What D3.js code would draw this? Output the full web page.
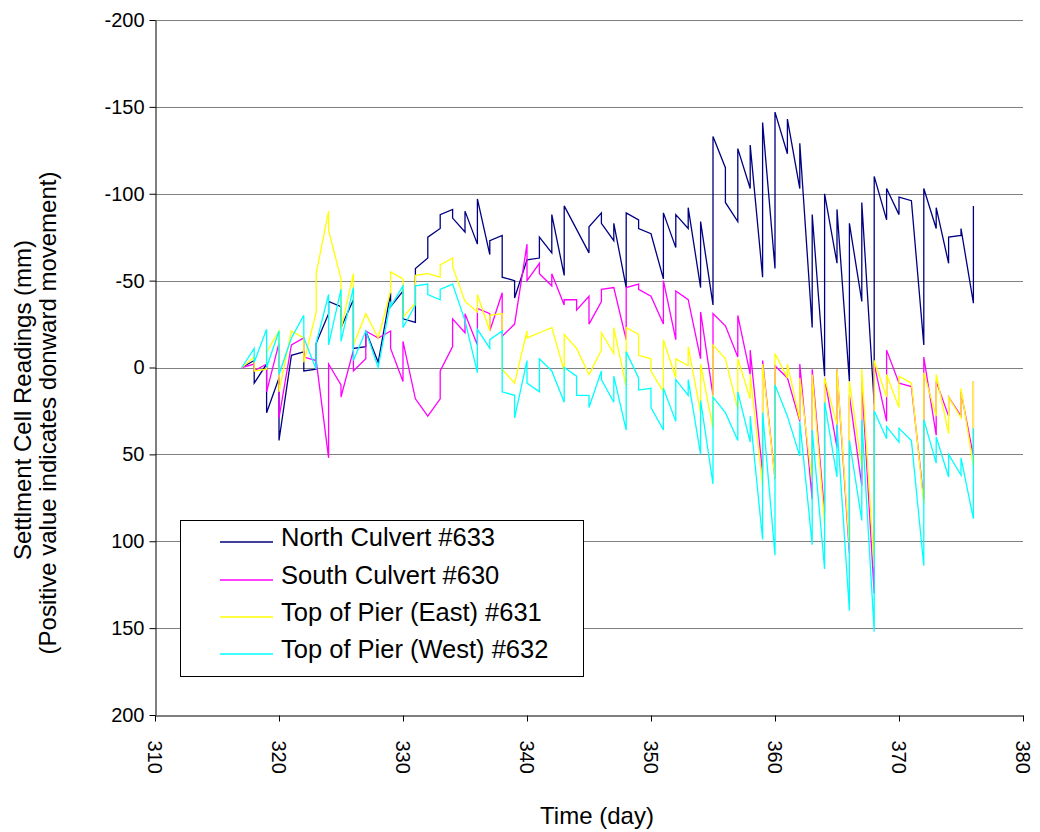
<!DOCTYPE html>
<html><head><meta charset="utf-8">
<script src="https://cdn.jsdelivr.net/npm/d3@7"></script>
<style>
body{margin:0;background:#fff}
svg{display:block}
text{font-family:"Liberation Sans",Arial,sans-serif;fill:#000}
</style>
</head><body>
<svg id="chart" width="1040" height="832"></svg>
<script>
const xTicks = [310,320,330,340,350,360,370,380];
const yTicks = [-200,-150,-100,-50,0,50,100,150,200];
const seriesNames = ["North Culvert #633","South Culvert #630","Top of Pier (East) #631","Top of Pier (West) #632"];
const seriesColors = ["#000080","#FF00FF","#FFFF00","#00FFFF"];

const north633 = [[317,0],[318,-4],[318,9],[319,-2],[319,26],[320,6],[320,42],[321,-7],[322,-9],[322,2],[323,1],[323,-14],[324,-31],[324,-38],[325,-35],[325,-23],[326,-39],[326,-11],[327,-12],[327,-21],[328,-3],[329,-43],[329,-35],[330,-44],[330,-28],[331,-26],[331,-57],[332,-63],[332,-75],[333,-80],[333,-88],[334,-91],[334,-86],[335,-78],[335,-90],[336,-71],[336,-97],[337,-65],[337,-73],[338,-76],[338,-52],[339,-50],[339,-40],[340,-62],[341,-63],[341,-75],[342,-66],[342,-88],[343,-53],[343,-93],[345,-66],[345,-81],[346,-89],[346,-83],[347,-73],[347,-83],[348,-46],[348,-89],[349,-85],[349,-80],[350,-77],[351,-51],[351,-89],[352,-69],[352,-88],[353,-80],[353,-92],[354,-46],[354,-84],[355,-36],[355,-133],[356,-115],[356,-95],[357,-84],[357,-126],[358,-103],[358,-128],[359,-52],[359,-141],[360,-57],[360,-147],[361,-123],[361,-143],[362,-103],[362,-129],[363,-23],[363,-88],[364,5],[364,-100],[365,-60],[365,-91],[366,8],[366,-83],[367,-38],[367,-95],[368,21],[368,-110],[369,-85],[369,-103],[370,-88],[370,-98],[371,-96],[372,-13],[372,-103],[373,-80],[373,-92],[374,-60],[374,-75],[375,-76],[375,-80],[376,-37],[376,-93]];

const south630 = [[317,0],[318,-2],[318,2],[319,-2],[319,14],[320,-14],[320,29],[321,-13],[322,-17],[322,-6],[323,-4],[324,52],[324,-2],[325,10],[325,17],[326,-10],[326,2],[327,-5],[327,-21],[328,-17],[329,-21],[329,-11],[330,8],[330,-15],[331,18],[332,28],[333,18],[333,2],[334,-12],[334,-28],[335,-20],[335,-31],[336,-13],[336,-34],[337,-31],[337,-21],[338,-43],[338,-18],[339,-25],[340,-71],[340,-50],[341,-60],[341,-54],[342,-47],[342,-54],[343,-36],[343,-39],[344,-39],[344,-33],[345,-41],[345,-25],[346,-38],[346,-45],[347,-46],[348,-16],[348,-46],[349,-48],[349,-45],[350,-41],[351,-25],[351,-50],[352,-16],[352,-44],[353,-39],[354,-5],[354,-32],[355,16],[355,-31],[356,-24],[357,-6],[357,-30],[358,4],[358,-10],[359,61],[359,-4],[360,64],[360,-1],[361,6],[362,31],[362,-2],[363,76],[363,1],[364,84],[364,6],[365,46],[365,1],[366,107],[366,16],[367,68],[367,8],[368,130],[368,-2],[369,31],[369,-10],[370,9],[371,11],[372,76],[372,-6],[373,39],[373,8],[374,28],[374,17],[375,28],[375,14],[376,51],[376,8]];

const east631 = [[317,0],[318,-6],[318,2],[319,1],[319,-9],[320,-21],[320,14],[321,-21],[322,-17],[322,-3],[323,-32],[323,-54],[324,-90],[324,-79],[325,-51],[325,-22],[326,-54],[326,-13],[327,-31],[328,-17],[329,-44],[329,-55],[330,-51],[330,-29],[331,-37],[331,-53],[332,-54],[333,-52],[333,-59],[334,-63],[334,-58],[335,-38],[336,-32],[336,-42],[337,-21],[337,-30],[338,-31],[338,1],[339,9],[340,-21],[340,-17],[341,-20],[342,-23],[343,2],[343,-19],[344,-11],[345,4],[346,-10],[346,-20],[347,-8],[347,-23],[348,11],[348,-23],[349,-19],[349,-7],[350,-5],[350,2],[351,14],[351,-16],[352,6],[352,-5],[353,-1],[353,-12],[354,26],[354,-2],[355,35],[355,-13],[356,-5],[357,24],[357,-5],[358,18],[358,4],[359,68],[359,-2],[360,64],[360,-8],[361,6],[361,-2],[362,30],[362,6],[363,66],[363,4],[364,90],[364,6],[365,33],[365,1],[366,103],[366,8],[367,57],[367,1],[368,115],[368,-4],[369,17],[369,4],[370,23],[370,5],[371,9],[372,79],[372,3],[373,28],[373,4],[374,38],[374,17],[375,29],[375,12],[376,57],[376,8]];

const west632 = [[317,0],[318,-11],[318,-3],[319,-22],[319,0],[320,-21],[320,4],[321,-17],[322,-30],[322,-17],[323,1],[323,-14],[324,-42],[324,-13],[325,-45],[325,-15],[326,-46],[326,-4],[327,-21],[328,0],[329,-38],[329,-35],[330,-47],[330,-23],[331,-36],[331,-47],[332,-48],[332,-42],[333,-39],[333,-45],[334,-48],[335,-27],[336,3],[336,-22],[337,-11],[337,-16],[338,-21],[338,14],[339,16],[339,29],[340,-4],[340,9],[341,14],[341,-5],[342,2],[343,20],[343,0],[344,5],[344,16],[345,16],[345,23],[346,2],[346,7],[347,20],[347,5],[348,36],[348,-9],[349,6],[349,13],[350,12],[350,23],[351,36],[351,12],[352,31],[352,7],[353,16],[353,7],[354,50],[354,19],[355,67],[355,17],[356,26],[357,42],[357,14],[358,43],[358,28],[359,99],[359,26],[360,108],[360,10],[361,28],[362,51],[362,31],[363,102],[363,36],[364,116],[364,20],[365,63],[365,33],[366,140],[366,42],[367,88],[367,30],[368,152],[368,25],[369,41],[369,34],[370,43],[370,35],[371,42],[372,114],[372,30],[373,55],[373,40],[374,63],[374,50],[375,62],[375,52],[376,87],[376,35]];

const allSeries = [north633, south630, east631, west632];

const svg = d3.select("#chart");
const plotLeft = 155, plotRight = 1023, plotTop = 20, plotBottom = 715;
const x = d3.scaleLinear().domain([310,380]).range([plotLeft,plotRight]);
const y = d3.scaleLinear().domain([-200,200]).range([plotTop,plotBottom]);
const FS = 20;      // tick labels
const FT = 24;      // titles and legend

// gridlines
svg.append("g").selectAll("line")
  .data(yTicks.filter(t => t !== 200)).join("line")
  .attr("x1", plotLeft).attr("x2", plotRight)
  .attr("y1", d => Math.round(y(d)) + 0.5).attr("y2", d => Math.round(y(d)) + 0.5)
  .attr("stroke", "#808080").attr("stroke-width", 1);

// series
const line = d3.line().x(d => x(d[0])).y(d => y(d[1]));
svg.append("g").selectAll("path")
  .data(allSeries).join("path")
  .attr("d", line)
  .attr("fill", "none")
  .attr("stroke", (d,i) => seriesColors[i])
  .attr("stroke-width", 1.3);

// y axis
const yAxis = svg.append("g").attr("transform", `translate(${plotLeft + 0.5},0)`)
  .call(d3.axisLeft(y).tickValues(yTicks).tickSize(6).tickSizeOuter(0).tickPadding(5).tickFormat(d => String(d)));
yAxis.selectAll("text").style("font-size", FS + "px");
yAxis.selectAll("line,path").attr("stroke", "#000");

// x axis
const xAxis = svg.append("g").attr("transform", `translate(0,${Math.round(plotBottom) + 0.5})`)
  .call(d3.axisBottom(x).tickValues(xTicks).tickSize(6).tickSizeOuter(0).tickFormat(d => String(d)));
xAxis.selectAll("line,path").attr("stroke", "#000");
xAxis.selectAll("text")
  .style("font-size", FS + "px")
  .attr("transform", "rotate(90)")
  .attr("text-anchor", "start")
  .attr("x", 25).attr("y", 0).attr("dy", "0.36em");

// axis titles
svg.append("text")
  .attr("transform", "translate(31,400) rotate(-90)")
  .attr("text-anchor", "middle")
  .style("font-size", FT + "px")
  .text("Settlment Cell Readings (mm)");
svg.append("text")
  .attr("transform", "translate(56,413) rotate(-90)")
  .attr("text-anchor", "middle")
  .style("font-size", FT + "px")
  .text("(Positive value indicates donward movement)");
svg.append("text")
  .attr("x", 597).attr("y", 824)
  .attr("text-anchor", "middle")
  .style("font-size", FT + "px")
  .text("Time (day)");

// legend
const lg = svg.append("g");
lg.append("rect").attr("x", 180.5).attr("y", 520.5).attr("width", 403).attr("height", 156)
  .attr("fill", "#fff").attr("stroke", "#000").attr("stroke-width", 1);
const rowY = [537, 575, 612, 649];
const items = lg.selectAll("g.item").data(seriesNames).join("g").attr("class", "item");
items.append("line")
  .attr("x1", 220).attr("x2", 273)
  .attr("y1", (d,i) => rowY[i] + 5).attr("y2", (d,i) => rowY[i] + 5)
  .attr("stroke", (d,i) => seriesColors[i]).attr("stroke-width", 1.3);
items.append("text")
  .attr("x", 281).attr("y", (d,i) => rowY[i]).attr("dy", "0.35em")
  .style("font-size", 25.5 + "px")
  .text(d => d);
</script>
</body></html>
